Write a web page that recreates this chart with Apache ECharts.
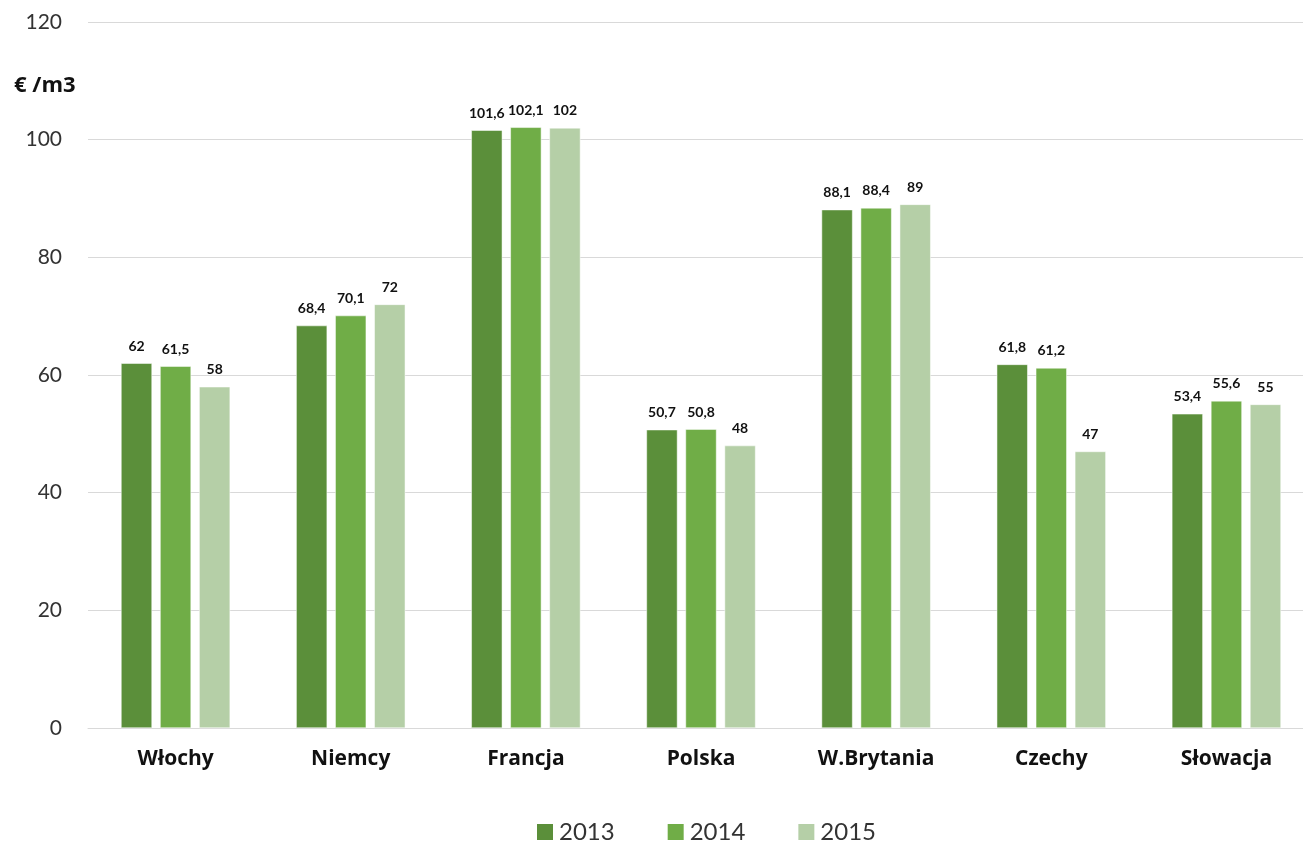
<!DOCTYPE html>
<html>
<head>
<meta charset="utf-8">
<script src="https://cdn.jsdelivr.net/npm/echarts@6/dist/echarts.min.js"></script>
<style>html,body{margin:0;padding:0;background:#fff;}#c{width:1303px;height:845px;}</style>
</head>
<body>
<div id="c"></div>
<script>
const categories = ['Włochy','Niemcy','Francja','Polska','W.Brytania','Czechy','Słowacja'];
const seriesNames = ['2013','2014','2015'];
const v2013 = [62, 68.4, 101.6, 50.7, 88.1, 61.8, 53.4];
const v2014 = [61.5, 70.1, 102.1, 50.8, 88.4, 61.2, 55.6];
const v2015 = [58, 72, 102, 48, 89, 47, 55];
const colors = ['#5b8f3a', '#70ad47', '#b5cfa7'];
const yTicks = {min: 0, max: 120, interval: 20};
const unitLabel = '€ /m3';

const font = 'Lato, "Open Sans", sans-serif';
const boldFont = '"Open Sans", Lato, sans-serif';
const chart = echarts.init(document.getElementById('c'));
const mk = (name, data, i) => ({
  name, type: 'bar', data,
  barWidth: 31, barGap: '26%',
  itemStyle: {color: colors[i], borderColor: '#fff', borderWidth: 0.5},
  label: {
    show: true, position: 'top', distance: 10,
    formatter: p => String(p.value).replace('.', ','),
    fontFamily: font, fontWeight: 'bold', fontSize: 14, color: '#111'
  }
});
chart.setOption({
  animation: false,
  color: colors,
  grid: {left: 88, width: 1226, top: 22, bottom: 117, containLabel: false, outerBoundsMode: 'none'},
  xAxis: {
    type: 'category', data: categories,
    axisLine: {show: true, lineStyle: {color: '#d9d9d9', width: 1}},
    axisTick: {show: false},
    axisLabel: {fontFamily: boldFont, fontWeight: 'bold', fontSize: 21, color: '#111', margin: 21}
  },
  yAxis: {
    type: 'value', min: yTicks.min, max: yTicks.max, interval: yTicks.interval,
    axisLine: {show: false}, axisTick: {show: false},
    splitLine: {lineStyle: {color: '#d9d9d9', width: 1}},
    axisLabel: {fontFamily: font, fontSize: 21, color: '#333', margin: 26}
  },
  legend: {
    bottom: -4, left: 530,
    data: seriesNames,
    itemWidth: 18, itemHeight: 18, itemGap: 51,
    icon: 'rect',
    textStyle: {fontFamily: font, fontSize: 24, color: '#333'}
  },
  graphic: [{
    type: 'text', left: 14, top: 75,
    style: {text: unitLabel, font: 'bold 22px ' + boldFont, fill: '#111'}
  }],
  series: [mk(seriesNames[0], v2013, 0), mk(seriesNames[1], v2014, 1), mk(seriesNames[2], v2015, 2)]
});
</script>
</body>
</html>
